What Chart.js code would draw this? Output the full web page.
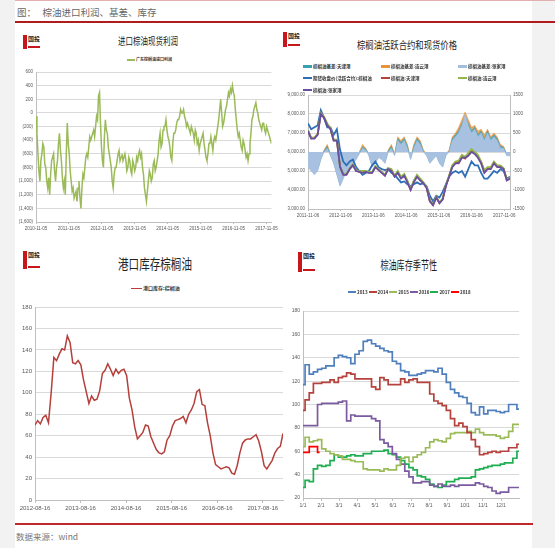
<!DOCTYPE html>
<html>
<head>
<meta charset="utf-8">
<script src="https://cdn.jsdelivr.net/npm/chart.js@4.4.1/dist/chart.umd.min.js"></script>
<style>
  body { margin: 0; width: 555px; height: 548px; background: #f2f2f2; position: relative; overflow: hidden;
         font-family: "Noto Sans CJK SC", sans-serif; }
  #page { position: absolute; left: 15px; top: 0; width: 517px; height: 548px; background: #fff; }
  canvas { position: absolute; }
  .abs { position: absolute; white-space: nowrap; }
  .title { position: absolute; color: #222; white-space: nowrap; transform-origin: center center; }
  .lg { position: absolute; white-space: nowrap; color: #333; font-weight: bold; }
  .lg i { display: inline-block; vertical-align: middle; margin-right: 1px; }
  .logo { position: absolute; width: 20px; height: 14px; }
  .logo b { position: absolute; left: 0; top: 0; width: 4px; height: 100%; background: #c8161d; }
  .logo span { position: absolute; left: 5px; top: 0; font-size: 6px; line-height: 8px; font-weight: bold; color: #222; }
  .logo i { position: absolute; left: 5px; bottom: 1px; width: 12px; height: 2px; background: #c8161d; }
</style>
</head>
<body>
<div id="page"></div>
<div class="abs" style="left:15px;top:0;width:540px;height:1px;background:#e3b0b0"></div>
<div class="abs" style="left:17px;top:5px;font-size:9.5px;color:#666">图：&nbsp;&nbsp;&nbsp;棕油进口利润、基差、库存</div>
<div class="abs" style="left:15px;top:21px;width:540px;height:2px;background:#b01c1c"></div>
<div class="abs" style="left:15px;top:523px;width:518px;height:2px;background:#c0282a"></div>
<div class="abs" style="left:16px;top:530px;font-size:8.5px;color:#777">数据来源：wind</div>

<canvas id="c1" width="270" height="170" style="left:10px;top:66px"></canvas>
<canvas id="c2" width="252" height="131" style="left:280px;top:89px"></canvas>
<canvas id="c3" width="280" height="217" style="left:6px;top:300px"></canvas>
<canvas id="c4" width="247" height="212" style="left:278px;top:304px"></canvas>

<script>
// ---- chart 1: 进口棕油现货利润
const profitTicks = ['2010-11-05', '2011-11-05', '2012-11-05', '2013-11-05', '2014-11-05', '2015-11-05', '2016-11-05', '2017-11-05'];
const profit = [-50, -300, -600, -850, -1000, -700, -600, -450, -500, -750, -800, -1000, -1100, -950, -1200, -900, -700, -650,
  -600, -850, -1000, -800, -700, -450, -300, -550, -700, -950, -1100, -1000, -1200, -600, -150, -450, -600, -850, -1000,
  -1150, -1100, -1250, -1200, -1150, -1300, -1100, -1000, -1250, -1400, -1100, -900, -950, -800, -650, -600, -650, -500, -350, -400,
  -350, -300, -250, -350, -200, -50, -100, 250, 300, -150, -500, -700, -800, -350, -100, -250, -300, -500, -600,
  -700, -800, -1000, -1100, -900, -800, -800, -700, -600, -550, -700, -650, -600, -700, -650, -600, -700, -850, -800, -650, -700,
  -850, -900, -700, -750, -850, -800, -650, -700, -600, -550, -650, -600, -800, -900, -1100, -1200, -1300, -1150, -1000,
  -850, -900, -1000, -950, -750, -700, -850, -800, -700, -600, -400, -300, -500, -450, -250, -200, -200, -100, -250, -350,
  -400, -500, -650, -700, -450, -300, -300, -250, -150, -100, -100, -50, 50, 0, 0, 50, -50, -100, -200, -150,
  -200, -250, -300, -200, -250, -300, -400, -250, -300, -450, -400, -550, -450, -400, -350, -300, -450, -550, -650, -700,
  -600, -450, -450, -350, -450, -550, -400, -350, -400, -300, -200, -100, 50, 200, 0, -200, -150, -50, 50, 100,
  200, 300, 250, 350, 300, 400, 300, 250, 50, -100, -250, -350, -300, -400, -500, -550, -400, -450, -550, -650,
  -600, -700, -600, -450, -300, -100, -50, 50, 100, 150, 50, 0, -100, -150, -200, -250, -150, -150, -250, -300,
  -200, -250, -300, -350, -400, -450];

// ---- chart 2: 棕榈油活跃合约和现货价格
const priceTicks = ['2011-11-06', '2012-11-06', '2013-11-06', '2014-11-06', '2015-11-06', '2016-11-06', '2017-11-06'];
const futures = [7500, 7200, 7300, 7400, 8200, 7800, 7300, 7300, 6900, 7200,
  6100, 5500, 5300, 5500, 5600, 5200, 5000, 4800, 4900, 5000,
  5300, 5500, 5200, 5100, 5050, 5100, 4900, 4800, 4600, 4400,
  4450, 4300, 4200, 4300, 4400, 4300, 4350, 4200, 3700, 3400,
  3700, 3600, 3900, 4300, 4700, 4900, 5000, 4900, 5000, 4700,
  5100, 5500, 5300, 5300, 4900, 4600, 4600, 4800, 5000, 4900,
  5100, 5000, 4600, 4700];
const spotTianjin = [7120, 6720, 6740, 6930, 8020, 7820, 7450, 7220, 6620, 6630,
  5230, 4820, 4820, 5120, 5320, 5020, 4970, 4930, 4980, 4920,
  4920, 5220, 5070, 4920, 4770, 5120, 5050, 4720, 4950, 4650,
  4800, 4450, 4020, 4450, 4750, 4550, 4370, 4120, 3420, 3220,
  3620, 3320, 3520, 4220, 4720, 5250, 5450, 5450, 5750, 5650,
  5850, 6050, 5950, 5750, 5450, 4950, 5150, 5150, 5450, 5250,
  5250, 5120, 4520, 4620];
const spotLianyungang = [7150, 6750, 6750, 6950, 8050, 7850, 7500, 7250, 6650, 6650,
  5250, 4850, 4850, 5150, 5350, 5050, 5000, 5000, 5000, 4950,
  4950, 5250, 5100, 4950, 4800, 5150, 5100, 4750, 5000, 4700,
  4850, 4500, 4050, 4500, 4800, 4600, 4400, 4150, 3450, 3250,
  3650, 3350, 3550, 4250, 4750, 5300, 5500, 5550, 5850, 5750,
  5950, 6150, 6000, 5850, 5500, 5050, 5200, 5200, 5500, 5300,
  5300, 5150, 4550, 4650];
const spotZhangjiagang = [7100, 6700, 6700, 6900, 8000, 7800, 7400, 7200, 6600, 6600,
  5200, 4800, 4800, 5100, 5300, 5000, 4950, 4900, 4950, 4900,
  4900, 5200, 5050, 4900, 4750, 5100, 5000, 4700, 4900, 4600,
  4750, 4400, 4000, 4400, 4700, 4500, 4350, 4100, 3400, 3200,
  3600, 3300, 3500, 4200, 4700, 5200, 5400, 5400, 5700, 5700,
  5800, 6000, 5900, 5700, 5400, 4900, 5100, 5100, 5400, 5200,
  5200, 5100, 4500, 4600];
const basisTianjin = [-380, -480, -560, -470, -180, 20, 150, -80, -280, -570,
  -870, -680, -480, -380, -280, -180, -30, 130, 80, -80,
  -380, -280, -130, -180, -280, 20, 150, -80, 350, 250,
  350, 150, -180, 150, 350, 250, 20, -80, -280, -180,
  -80, -280, -380, -80, 20, 350, 450, 550, 750, 950,
  750, 550, 650, 450, 550, 350, 550, 350, 450, 350,
  150, 120, -80, -80];
const basisLianyungang = [-350, -450, -550, -450, -150, 50, 200, -50, -250, -550,
  -850, -650, -450, -350, -250, -150, 0, 200, 100, -50,
  -350, -250, -100, -150, -250, 50, 200, -50, 400, 300,
  400, 200, -150, 200, 400, 300, 50, -50, -250, -150,
  -50, -250, -350, -50, 50, 400, 500, 650, 850, 1050,
  850, 650, 700, 550, 600, 450, 600, 400, 500, 400,
  200, 150, -50, -50];
const basisZhangjiagang = [-400, -500, -600, -500, -200, 0, 100, -100, -300, -600,
  -900, -700, -500, -400, -300, -200, -50, 100, 50, -100,
  -400, -300, -150, -200, -300, 0, 100, -100, 300, 200,
  300, 100, -200, 100, 300, 200, 0, -100, -300, -200,
  -100, -300, -400, -100, 0, 300, 400, 500, 700, 1000,
  700, 500, 600, 400, 500, 300, 500, 300, 400, 300,
  100, 100, -100, -100];

// ---- chart 3: 港口库存棕榈油
const stockTicks = ['2012-08-16', '2013-08-16', '2014-08-16', '2015-08-16', '2016-08-16', '2017-08-16'];
const portStock = [70, 74, 71, 77, 79, 72, 100, 133, 130, 136,
  141, 140, 153, 147, 128, 127, 130, 126, 112, 101,
  90, 97, 93, 94, 102, 118, 121, 127, 122, 116,
  122, 118, 121, 122, 116, 95, 84, 68, 57, 60,
  63, 70, 69, 59, 53, 47, 44, 43, 45, 56,
  60, 69, 74, 75, 76, 78, 72, 80, 84, 90,
  101, 103, 89, 88, 72, 60, 44, 33, 31, 29,
  30, 31, 30, 25, 24, 32, 44, 53, 56, 57,
  57, 59, 61, 55, 45, 32, 29, 33, 37, 44,
  48, 50, 62];

// ---- chart 4: 棕油库存季节性 (weekly)
const monthTicks = ['1/1', '2/1', '3/1', '4/1', '5/1', '6/1', '7/1', '8/1', '9/1', '10/1', '11/1', '12/1'];
const seasonYears = ['2013', '2014', '2015', '2016', '2017', '2018'];
const s2013 = [117, 134, 126, 128, 130, 131, 133, 133, 140, 142, 141, 140, 135, 143, 146, 154, 155, 152, 150, 148,
  146, 145, 137, 135, 129, 128, 125, 125, 126, 127, 129, 129, 128, 131, 126, 119, 113, 110, 107, 106,
  101, 93, 91, 98, 92, 95, 95, 94, 93, 94, 100, 100, 96];
const s2014 = [95, 104, 110, 118, 118, 119, 119, 121, 119, 123, 124, 127, 126, 122, 122, 122, 122, 115, 113, 123,
  121, 117, 117, 117, 122, 119, 121, 122, 119, 119, 119, 109, 103, 101, 99, 95, 88, 82, 84, 81,
  76, 70, 64, 57, 58, 59, 60, 59, 60, 60, 63, 63, 66];
const s2015 = [64, 72, 68, 69, 70, 62, 60, 58, 57, 56, 53, 53, 52, 51, 51, 45, 44, 44, 44, 43,
  45, 44, 44, 48, 54, 55, 51, 55, 57, 59, 63, 68, 70, 69, 68, 71, 75, 76, 76, 76,
  77, 76, 79, 76, 74, 74, 74, 73, 71, 72, 77, 83, 83];
const s2016 = [82, 82, 82, 82, 100, 101, 101, 101, 101, 102, 103, 86, 91, 90, 90, 90, 90, 88, 86, 70,
  67, 64, 58, 53, 49, 43, 38, 33, 33, 34, 34, 31, 30, 32, 30, 30, 31, 30, 31, 31,
  31, 31, 33, 32, 30, 29, 26, 24, 25, 25, 29, 29, 29];
const s2017 = [29, 35, 34, 45, 48, 47, 48, 52, 57, 55, 55, 56, 57, 56, 56, 58, 58, 60, 60, 60,
  61, 58, 57, 55, 52, 49, 46, 44, 39, 38, 36, 32, 30, 29, 31, 34, 34, 36, 37, 37,
  37, 38, 44, 45, 46, 47, 48, 48, 49, 50, 50, 54, 60];
const s2018 = [59, 59, 64, 64, 59];

const GREY = '#595959';
const GRID = '#d9d9d9';
const pts = arr => arr.map((v, i) => ({ x: i, y: v }));

function xAxis(max, step, labels, h, size, tick) {
  return {
    type: 'linear', min: 0, max: max,
    afterBuildTicks: s => { s.ticks = labels.map((_, i) => ({ value: i * step })); },
    afterFit: s => { s.height = h; },
    ticks: { autoSkip: false, maxRotation: 0, padding: 2, color: GREY, font: { size: size }, callback: (v, i) => labels[i] },
    grid: { drawOnChartArea: false, drawTicks: true, tickLength: tick, color: '#bfbfbf' },
    border: { color: '#bfbfbf' }
  };
}
function yAxis(min, max, step, w, size, fmt, pos, grid) {
  return {
    type: 'linear', position: pos, min: min, max: max,
    afterFit: s => { s.width = w; },
    ticks: { stepSize: step, padding: 3, color: GREY, font: { size: size }, callback: fmt },
    grid: { color: GRID, lineWidth: 1, drawTicks: false, drawOnChartArea: grid },
    border: { color: '#bfbfbf' }
  };
}
function line(label, data, color, width, extra) {
  return Object.assign({ label: label, data: pts(data), borderColor: color, backgroundColor: color,
    borderWidth: width, pointRadius: 0, tension: 0, fill: false }, extra || {});
}
const common = { responsive: false, animation: false, devicePixelRatio: 1,
  plugins: { legend: { display: false }, tooltip: { enabled: false } } };

Chart.defaults.font.family = '"Liberation Sans", sans-serif';

const acct = v => v < 0 ? '(' + (-v).toLocaleString('en-US') + ')' : v.toLocaleString('en-US');

new Chart(document.getElementById('c1'), {
  type: 'line',
  data: { datasets: [line('广东棕榈油进口利润', profit, '#9bbb59', 1.5)] },
  options: Object.assign({}, common, {
    layout: { padding: { left: 0, right: 8, top: 6, bottom: 0 } },
    scales: {
      x: xAxis(profit.length - 1, (profit.length - 1) * 33 / 236, profitTicks, 14, 4.5, 2),
      y: yAxis(-1600, 600, 200, 26, 4.5, acct, 'left', true)
    }
  })
});

new Chart(document.getElementById('c2'), {
  type: 'line',
  data: { datasets: [
    line('棕榈油基差:连云港', basisLianyungang, '#e8943a', 0.6, { yAxisID: 'yR', fill: 'origin', backgroundColor: '#eda55a', order: 10 }),
    line('棕榈油基差:天津港', basisTianjin, '#3a9fb5', 0.6, { yAxisID: 'yR', fill: 'origin', backgroundColor: '#4fa9bd', order: 9 }),
    line('棕榈油基差:张家港', basisZhangjiagang, '#a3bddf', 0.6, { yAxisID: 'yR', fill: 'origin', backgroundColor: '#a9c1e0', order: 8 }),
    line('期货收盘价(活跃合约):棕榈油', futures, '#2f6fb7', 1.8, { yAxisID: 'y', order: 4 }),
    line('棕榈油:天津港', spotTianjin, '#b8403c', 1.8, { yAxisID: 'y', order: 3 }),
    line('棕榈油:连云港', spotLianyungang, '#93b84a', 1.8, { yAxisID: 'y', order: 2 }),
    line('棕榈油:张家港', spotZhangjiagang, '#6b4f9e', 1.8, { yAxisID: 'y', order: 1 })
  ] },
  options: Object.assign({}, common, {
    layout: { padding: { left: 0, right: 0, top: 6, bottom: 0 } },
    scales: {
      x: xAxis(futures.length - 1, 10.2, priceTicks, 11, 4.5, 2),
      y: yAxis(3000, 9000, 1000, 28, 4.5, v => v.toLocaleString('en-US', { minimumFractionDigits: 2 }), 'left', true),
      yR: yAxis(-1500, 1500, 500, 22, 4.5, v => v, 'right', false)
    }
  })
});

new Chart(document.getElementById('c3'), {
  type: 'line',
  data: { datasets: [line('港口库存:棕榈油', portStock, '#b53f3b', 1.5)] },
  options: Object.assign({}, common, {
    layout: { padding: { left: 0, right: 3, top: 7, bottom: 0 } },
    scales: {
      x: xAxis(portStock.length - 1, 16.9, stockTicks, 17, 6, 3),
      y: yAxis(0, 180, 20, 29, 6, v => v, 'left', true)
    }
  })
});

const seasonColors = ['#4f7fbc', '#b5423d', '#9bbb59', '#7a5ba0', '#1fae52', '#ff0000'];
const seasonData = [s2013, s2014, s2015, s2016, s2017, s2018];
new Chart(document.getElementById('c4'), {
  type: 'line',
  data: { datasets: seasonData.map((d, i) => line(seasonYears[i], d, seasonColors[i], 1.7, { stepped: 'middle' })) },
  options: Object.assign({}, common, {
    layout: { padding: { left: 0, right: 6, top: 7, bottom: 0 } },
    scales: {
      x: xAxis(s2013.length - 1, (s2013.length - 1) / 12, monthTicks, 18, 5, 3),
      y: yAxis(20, 180, 20, 25, 5, v => v, 'left', true)
    }
  })
});

// ---- titles, logos, legends
function title(text, cx, cy, size, width) {
  const d = document.createElement('div');
  d.className = 'title';
  d.textContent = text;
  d.style.fontSize = size + 'px';
  d.style.lineHeight = size + 'px';
  document.body.appendChild(d);
  const w = d.offsetWidth;
  d.style.left = (cx - w / 2) + 'px';
  d.style.top = (cy - size / 2) + 'px';
  d.style.transform = 'scaleX(' + (width / w) + ')';
}
title('进口棕油现货利润', 148, 41, 10, 60);
title('棕榈油活跃合约和现货价格', 407, 45, 10.5, 100);
title('港口库存棕榈油', 155, 263, 14, 74);
title('棕油库存季节性', 409, 265, 12.5, 57);

function logo(x, y, w, h) {
  const d = document.createElement('div');
  d.className = 'logo';
  d.style.left = x + 'px'; d.style.top = y + 'px';
  d.style.width = w + 'px'; d.style.height = h + 'px';
  d.innerHTML = '<b></b><span>国投</span><i></i>';
  document.body.appendChild(d);
}
logo(23, 35, 17, 14);
logo(283, 32, 22, 15);
logo(23, 251, 22, 18);
logo(298, 252, 18, 20);

function legend(x, y, label, color, size, len, thick) {
  const d = document.createElement('div');
  d.className = 'lg';
  d.style.left = x + 'px';
  d.style.top = (y - size) + 'px';
  d.style.fontSize = size + 'px';
  d.style.lineHeight = (size * 2) + 'px';
  d.innerHTML = '<i style="width:' + len + 'px;height:' + thick + 'px;background:' + color + '"></i>' + label;
  document.body.appendChild(d);
}
legend(127, 59, '广东棕榈油进口利润', '#9bbb59', 4, 8, 1.5);
legend(131, 288, '港口库存:棕榈油', '#b53f3b', 5, 11, 1.5);
seasonYears.forEach((yr, i) => legend(348 + i * 20.6, 292, yr, seasonColors[i], 4.5, 8, 2));

const c2Labels = ['棕榈油基差:天津港', '棕榈油基差:连云港', '棕榈油基差:张家港',
  '期货收盘价(活跃合约):棕榈油', '棕榈油:天津港', '棕榈油:连云港', '棕榈油:张家港'];
const c2Colors = ['#3a9fb5', '#e8943a', '#a3bddf', '#2f6fb7', '#b8403c', '#93b84a', '#6b4f9e'];
const c2Cols = [303, 381, 458];
c2Labels.forEach((lab, i) => {
  const thick = i < 3 ? 3 : 1.6;
  legend(c2Cols[i % 3], 66 + Math.floor(i / 3) * 12, lab, c2Colors[i], 4.5, 9, thick);
});
</script>
</body>
</html>
